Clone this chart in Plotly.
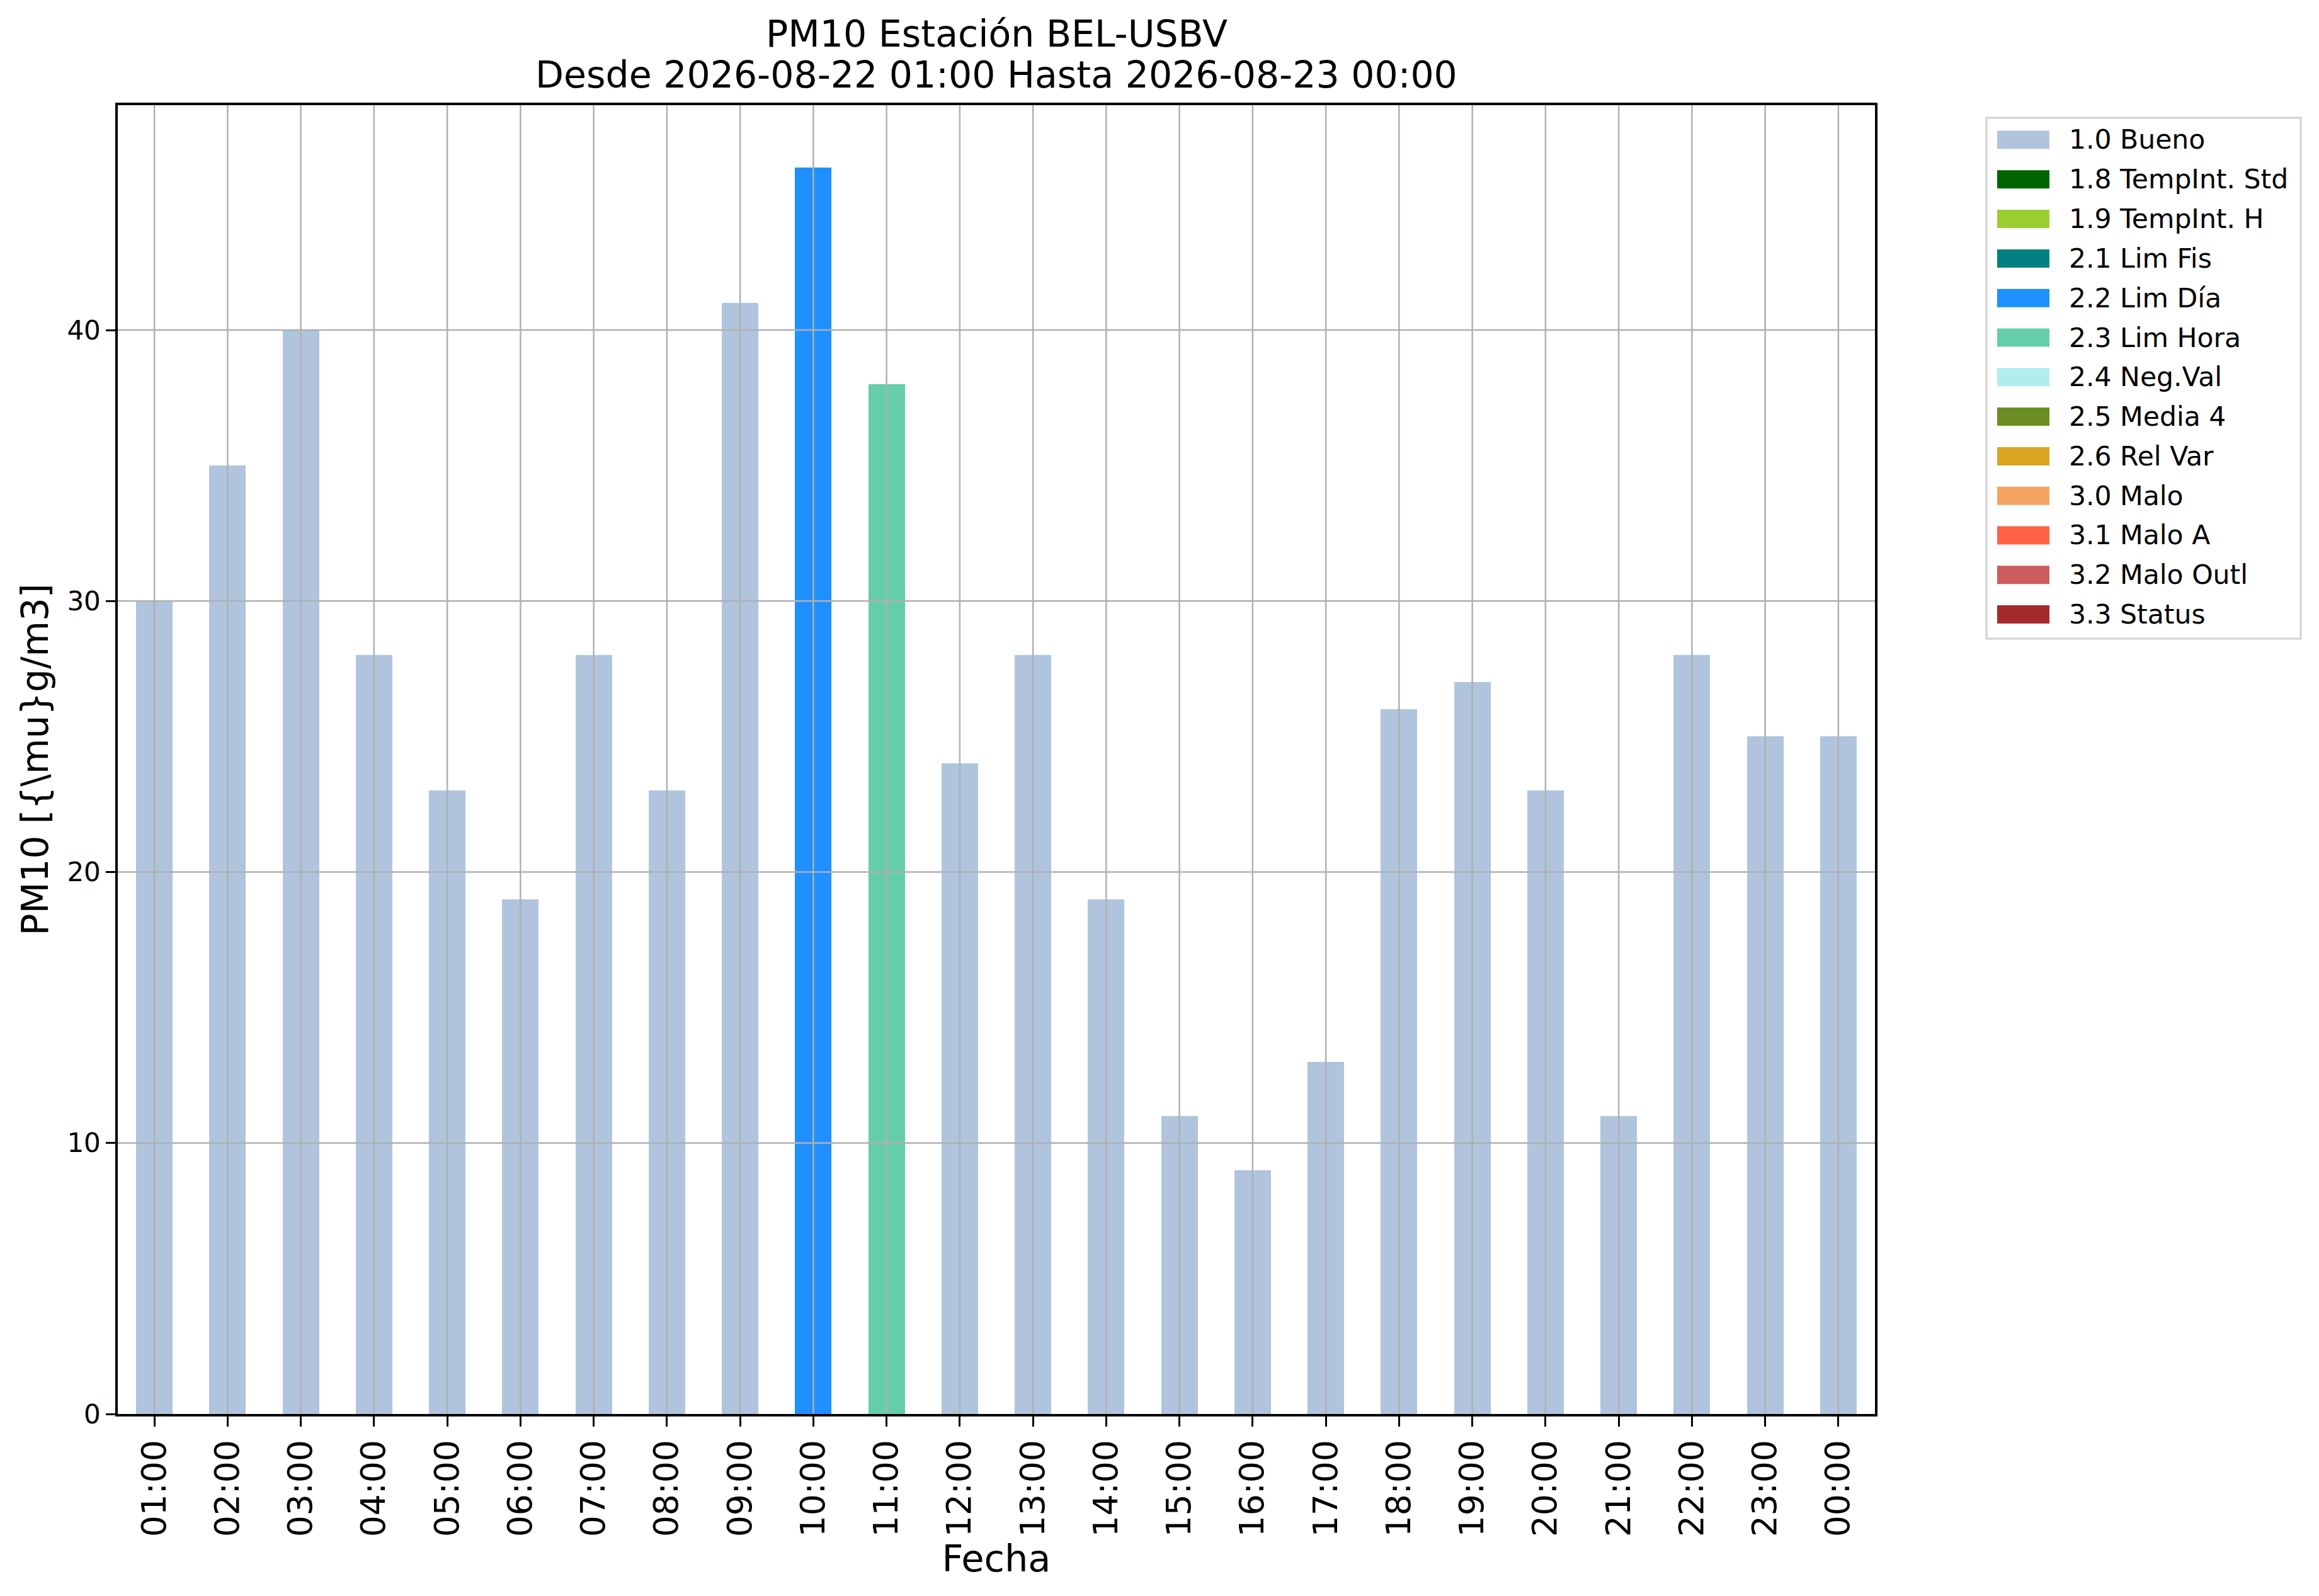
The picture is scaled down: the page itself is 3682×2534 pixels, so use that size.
import plotly.graph_objects as go

# ---------------- datos ----------------
horas = ["01:00", "02:00", "03:00", "04:00", "05:00", "06:00", "07:00", "08:00",
         "09:00", "10:00", "11:00", "12:00", "13:00", "14:00", "15:00", "16:00",
         "17:00", "18:00", "19:00", "20:00", "21:00", "22:00", "23:00", "00:00"]
pm10 = [30, 35, 40, 28, 23, 19, 28, 23, 41, 46, 38, 24,
        28, 19, 11, 9, 13, 26, 27, 23, 11, 28, 25, 25]
flags = ["1.0", "1.0", "1.0", "1.0", "1.0", "1.0", "1.0", "1.0", "1.0", "2.2", "2.3", "1.0",
         "1.0", "1.0", "1.0", "1.0", "1.0", "1.0", "1.0", "1.0", "1.0", "1.0", "1.0", "1.0"]

codigos = ["1.0", "1.8", "1.9", "2.1", "2.2", "2.3", "2.4", "2.5", "2.6", "3.0", "3.1", "3.2", "3.3"]
nombres = ["Bueno", "TempInt. Std", "TempInt. H", "Lim Fis", "Lim Día", "Lim Hora", "Neg.Val",
           "Media 4", "Rel Var", "Malo", "Malo A", "Malo Outl", "Status"]
colores = ["#B0C4DE", "#006400", "#9ACD32", "#008080", "#1E90FF", "#66CDAA", "#AFEEEE",
           "#6B8E23", "#DAA520", "#F4A460", "#FF6347", "#CD5C5C", "#A52A2A"]

y_ticks = [0, 10, 20, 30, 40]

titulo1 = "PM10 Estación BEL-USBV"
titulo2 = "Desde 2026-08-22 01:00 Hasta 2026-08-23 00:00"

# ---------------- geometria (px) ----------------
ANCHO, ALTO = 3682, 2534
L, R, T, B = 187, 2977, 167, 2245
W, H = R - L, B - T
FUENTE = "DejaVu Sans"
GRIS = "#b0b0b0"


def px_x(px):
    return (px - L) / W


def px_y(py):
    return (B - py) / H


fig = go.Figure()

for cod, nom, col in zip(codigos, nombres, colores):
    valores = [v if f == cod else None for v, f in zip(pm10, flags)]
    fig.add_trace(go.Bar(
        x=horas,
        y=valores,
        name=cod + " " + nom,
        marker=dict(color=col, line=dict(width=0)),
        width=0.5,
        showlegend=False,
    ))

# rejilla encima de las barras (como en matplotlib)
for h in horas:
    fig.add_shape(type="line", xref="x", yref="paper", x0=h, x1=h, y0=0, y1=1,
                  line=dict(color=GRIS, width=2.5), layer="above")
for t in y_ticks[1:]:
    fig.add_shape(type="line", xref="paper", yref="y", x0=0, x1=1, y0=t, y1=t,
                  line=dict(color=GRIS, width=2.5), layer="above")

# leyenda dibujada a mano
fila0, paso = 222, 62.8
fig.add_shape(type="rect", xref="paper", yref="paper",
              x0=px_x(3154), x1=px_x(3653), y0=px_y(187), y1=px_y(1014),
              line=dict(color="#d6d6d6", width=3.5), fillcolor="white", layer="above")
for i, (cod, nom, col) in enumerate(zip(codigos, nombres, colores)):
    yc = fila0 + i * paso
    fig.add_shape(type="rect", xref="paper", yref="paper",
                  x0=px_x(3171), x1=px_x(3254), y0=px_y(yc - 14.5), y1=px_y(yc + 14.5),
                  line=dict(width=0), fillcolor=col, layer="above")
    fig.add_annotation(x=px_x(3283), y=px_y(yc), xref="paper", yref="paper",
                       text=cod + " " + nom, showarrow=False, xanchor="left", yanchor="middle",
                       font=dict(family=FUENTE, size=42.5, color="black"))

# titulo en dos lineas
for texto, yc in [(titulo1, 54), (titulo2, 119)]:
    fig.add_annotation(x=0.5, y=px_y(yc), xref="paper", yref="paper",
                       text=texto, showarrow=False, xanchor="center", yanchor="middle",
                       font=dict(family=FUENTE, size=58.5, color="black"))

fig.update_layout(
    width=ANCHO,
    height=ALTO,
    margin=dict(l=L, r=ANCHO - R, t=T, b=ALTO - B, pad=0),
    paper_bgcolor="white",
    plot_bgcolor="white",
    barmode="stack",
    font=dict(family=FUENTE, color="black"),
    xaxis=dict(
        title=dict(text="Fecha", font=dict(family=FUENTE, size=59), standoff=12),
        type="category",
        categoryorder="array",
        categoryarray=horas,
        range=[-0.5, len(horas) - 0.5],
        tickangle=-90,
        tickfont=dict(family=FUENTE, size=53.5),
        ticks="outside", ticklen=16, tickwidth=3, tickcolor="black",
        showgrid=False,
        showline=True, linecolor="black", linewidth=3.5, mirror=True,
        zeroline=False,
    ),
    yaxis=dict(
        title=dict(text="PM10 [{\\mu}g/m3]", font=dict(family=FUENTE, size=58), standoff=12),
        range=[0, 48.3],
        tickvals=y_ticks,
        tickfont=dict(family=FUENTE, size=42),
        ticks="outside", ticklen=15, tickwidth=3, tickcolor="black",
        showgrid=False,
        showline=True, linecolor="black", linewidth=3.5, mirror=True,
        zeroline=False,
    ),
)

# sin el margen por defecto del <body>, para que la figura empiece en (0, 0)
fig.write_html("out.html", config={"displayModeBar": False},
               post_script="document.body.style.margin = '0';")
